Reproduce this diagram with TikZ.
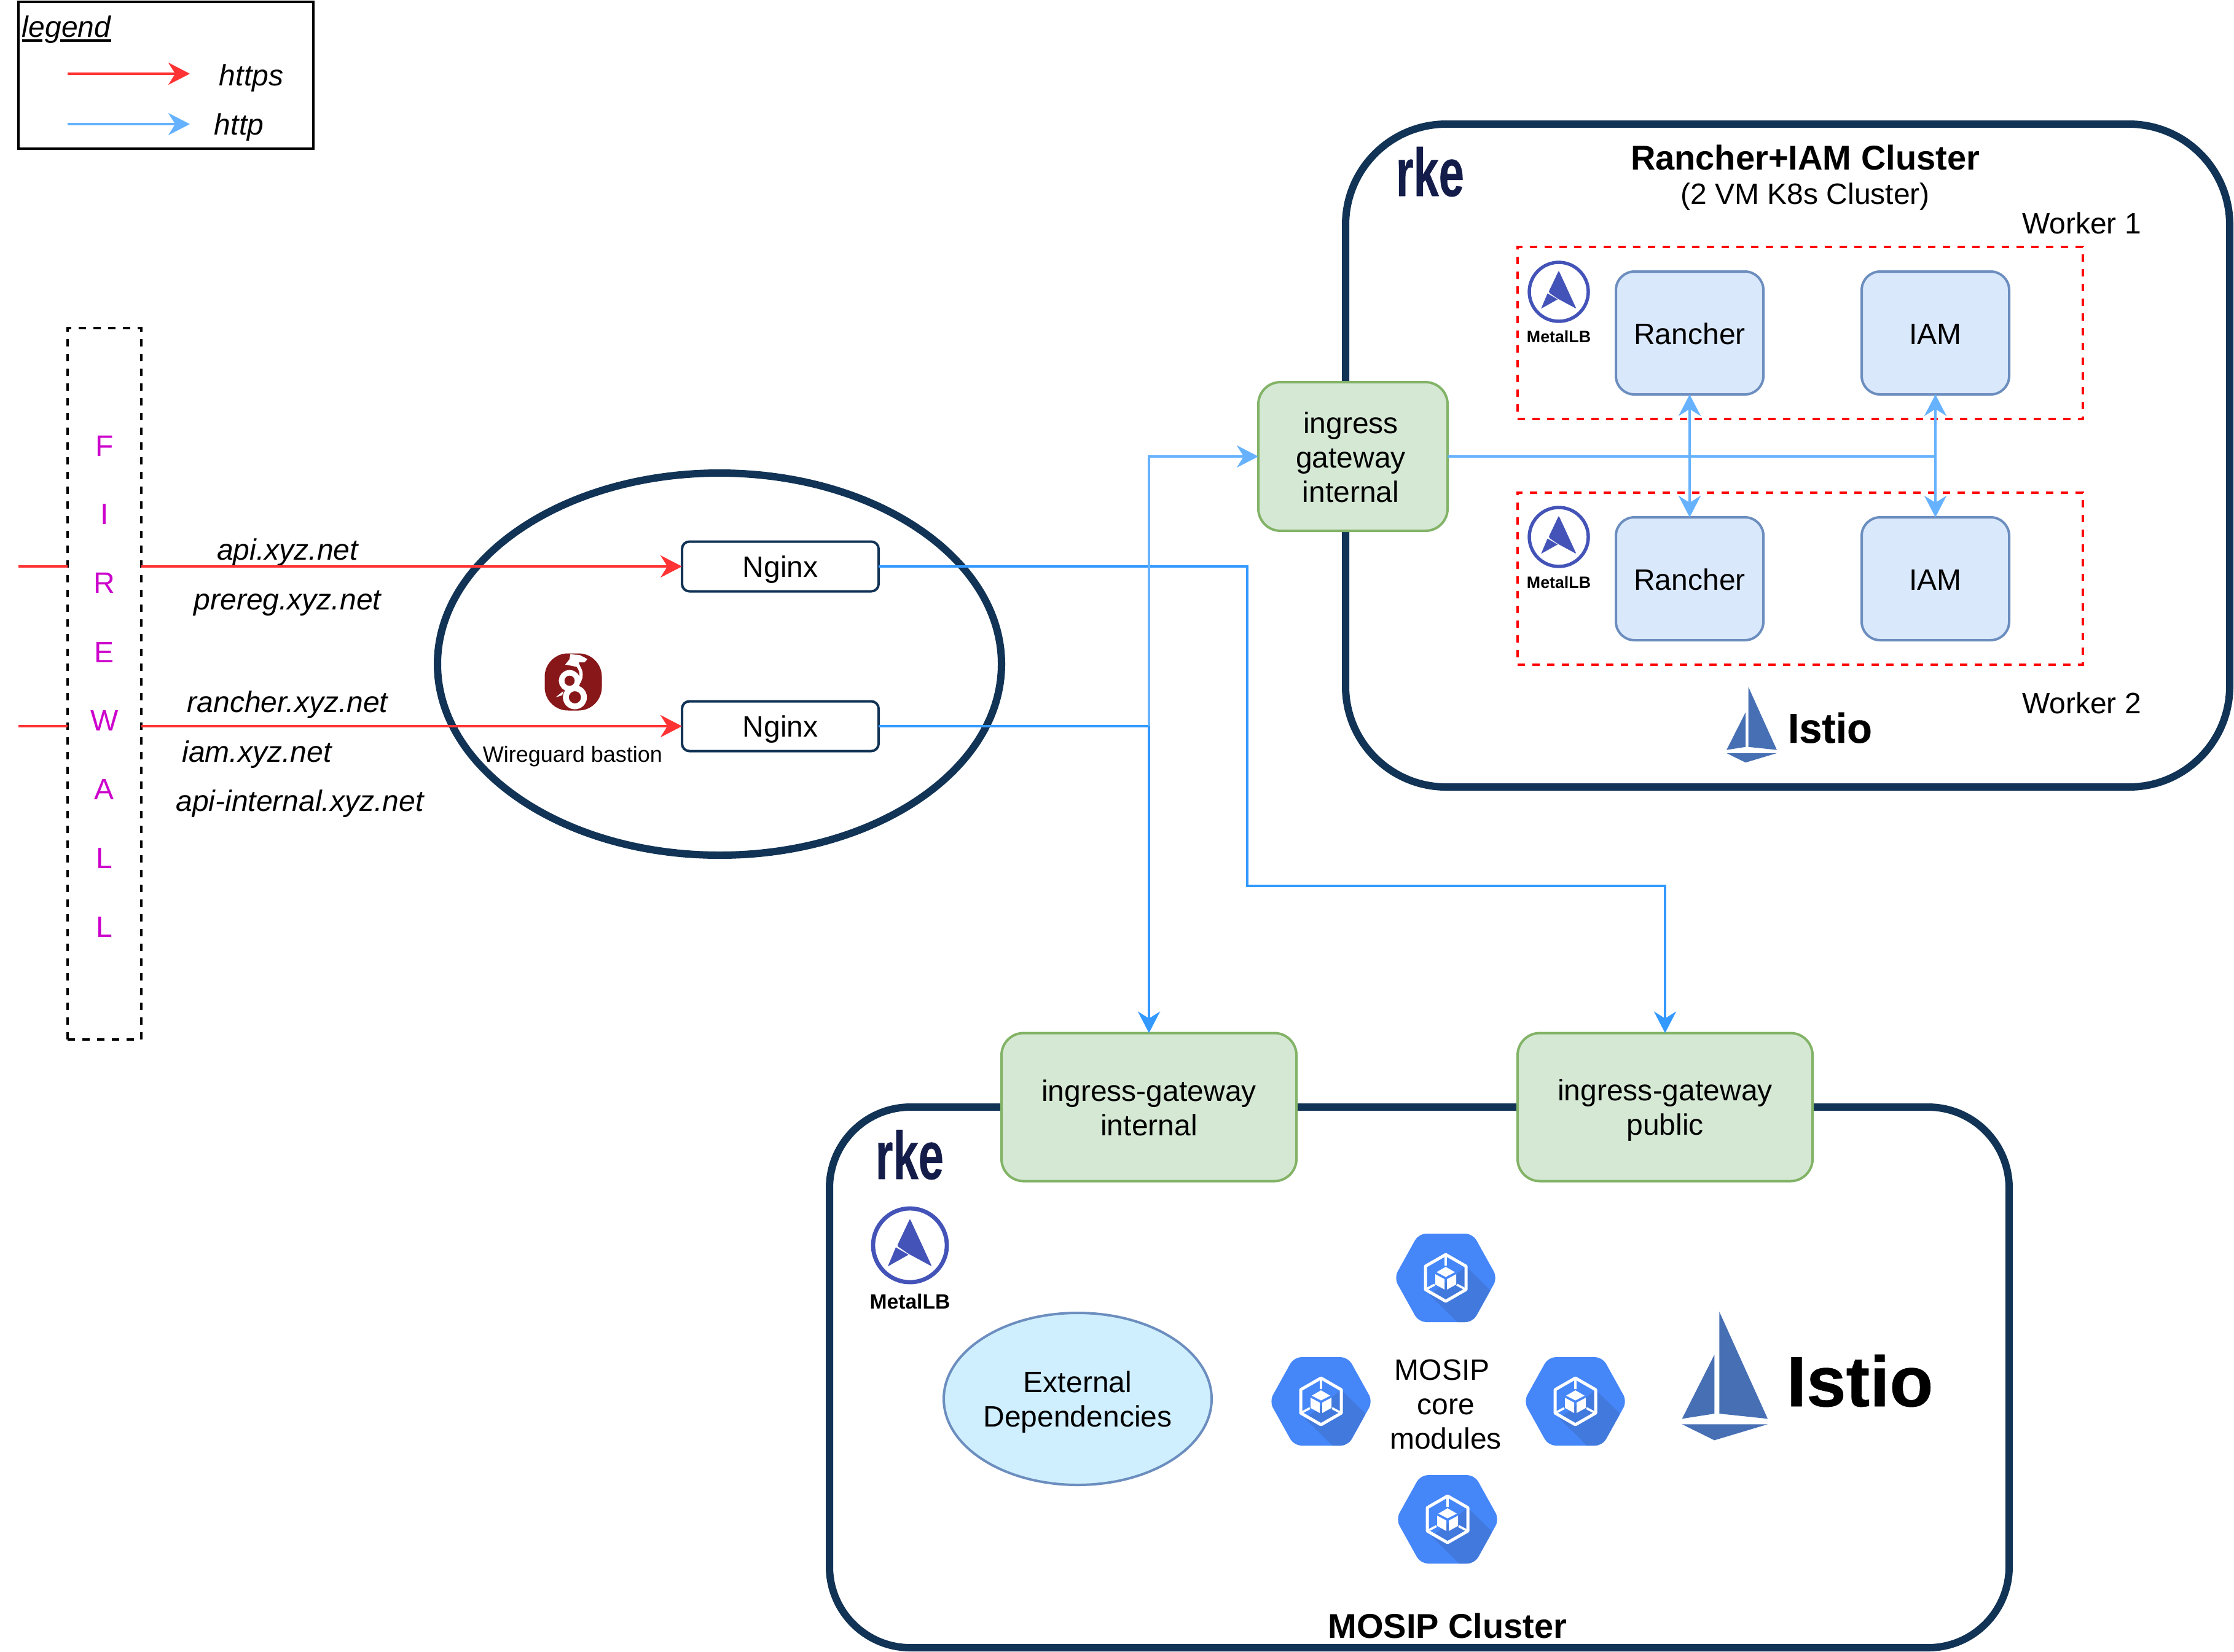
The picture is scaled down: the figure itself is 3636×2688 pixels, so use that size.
\documentclass[tikz,border=0pt]{standalone}
\usepackage{graphicx}
\usepackage{fontspec}
\setmainfont{Liberation Sans}
\newfontfamily\logofont[BoldFeatures={FakeBold=0.5}]{Liberation Sans}
\usetikzlibrary{arrows.meta,shapes.geometric}
\definecolor{navy}{HTML}{113355}
\definecolor{rkeblue}{HTML}{141D4A}
\definecolor{hexmain}{HTML}{4586F9}
\definecolor{hexdark}{HTML}{4279DC}
\definecolor{lbblue}{HTML}{4353B8}
\definecolor{sail}{HTML}{476FB4}
\definecolor{wgred}{HTML}{88171A}
\definecolor{redline}{HTML}{FF3333}
\definecolor{lightline}{HTML}{66B2FF}
\definecolor{midline}{HTML}{3399FF}
\newcommand{\stt}{\rule[-2.1pt]{0pt}{13.4pt}}
\newcommand{\metallogo}[3]{%
  \begin{scope}[shift={(#1,#2)},scale=#3]
    \draw[lbblue,line width=#3*1.7pt] (0,0) circle[radius=60];
    \fill[lbblue,rounded corners=0.5pt] (0,-43.3) -- (35.7,34.3) -- (-2,14) -- (-21,1) -- cycle;
    \fill[lbblue] (-23,3.3) -- (-2.3,15.3) -- (-36,34.3) -- cycle;
  \end{scope}}
\newcommand{\istiologo}[3]{%
  \begin{scope}[shift={(#1,#2)},scale=#3]
    \fill[sail] (0,0) -- (78.7,174.3) -- (0,166) -- cycle;
    \fill[sail] (-8,70) -- (-8,166) -- (-60.7,174.3) -- cycle;
    \fill[sail] (-60.7,183.3) -- (78.7,183.3) -- (-8,209.3) -- cycle;
  \end{scope}}
\newcommand{\kubeicon}[2]{%
  \begin{scope}[shift={(#1,#2)}]
    \begin{scope}
      \path[clip,rounded corners=3pt] (-84,0) -- (-44,-72) -- (44,-72) -- (84,0) -- (44,72) -- (-44,72) -- cycle;
      \fill[hexmain] (-90,-80) rectangle (90,80);
      \fill[hexdark] (33,-18.6) -- (71,18.6) -- (90,80) -- (19,72) -- (-26,28) -- cycle;
    \end{scope}
    \draw[white,line width=1.25pt,line join=round] (0,-38) -- (33,-19) -- (33,19) -- (0,38) -- (-33,19) -- (-33,-19) -- cycle;
    \draw[white,line width=0.9pt] (0,-38) -- (0,-20) (-33,19) -- (-18,11) (33,19) -- (18,11);
    \fill[white] (0,-18) -- (15,-9.3) -- (0,-1.5) -- (-15,-9.3) -- cycle;
    \fill[white] (-17,-6) -- (-2,2) -- (-2,19) -- (-17,10.7) -- cycle;
    \fill[white] (17,-6) -- (2,2) -- (2,19) -- (17,10.7) -- cycle;
  \end{scope}}
\tikzset{
  x=0.25pt,y=-0.25pt,
  base font/.style={font=\fontsize{12}{14}\selectfont},
  wh/.style 2 args={minimum width=#1*0.25pt,minimum height=#2*0.25pt,inner sep=0pt,outer sep=0pt},
  cluster/.style={draw=navy,line width=3pt,rounded corners=#1,fill=white},
  rancherbox/.style={draw={rgb,255:red,108;green,142;blue,191},fill={rgb,255:red,218;green,232;blue,252},line width=1pt,rounded corners=7.5pt,align=center,base font},
  greenbox/.style={draw={rgb,255:red,130;green,179;blue,102},fill={rgb,255:red,213;green,232;blue,212},line width=1pt,rounded corners=9pt,align=center,base font},
  nginxbox/.style={draw=navy,fill=white,line width=1pt,rounded corners=3pt,align=center,base font},
  workerbox/.style={draw={rgb,255:red,255;green,0;blue,0},line width=1pt,dash pattern=on 3pt off 3pt},
  lbl/.style={base font,inner sep=0pt,outer sep=0pt,anchor=base},
  ilbl/.style={lbl,font=\fontsize{12}{14}\selectfont\itshape},
  letter/.style={base font,text={rgb,255:red,204;green,0;blue,204},inner sep=0pt},
  tipshape/.style={-{Stealth[length=8.75pt,width=9pt,inset=2.8pt]}},
  biptip/.style={{Stealth[length=8.75pt,width=9pt,inset=2.8pt]}-{Stealth[length=8.75pt,width=9pt,inset=2.8pt]}},
  redwire/.style={redline,line width=1pt},
  lightwire/.style={lightline,line width=1pt},
  midwire/.style={midline,line width=1pt},
  lbtext/.style={inner sep=0pt,anchor=base,font=\fontsize{#1}{#1}\selectfont\bfseries},
  rketext/.style={inner sep=0pt,anchor=base west,text=rkeblue,font=\fontsize{27.6}{30}\selectfont\logofont\bfseries},
  istiotext/.style={inner sep=0pt,anchor=base west,font=\fontsize{#1}{#1}\selectfont\logofont\bfseries},
}
\begin{document}
\begin{tikzpicture}
\useasboundingbox (0,0) rectangle (3636,2688);
% legend
\node[draw=black,line width=1pt,wh={480}{239}] (legendbox) at (270,122) {};
\node[ilbl,anchor=base west] (legendtitle) at (36,60) {legend};
\draw[black,line width=0.8pt] (36,66) -- (69,66) (98,66) -- (181,66);
\coordinate (ls1) at (110,120); \coordinate (le1) at (309,120);
\coordinate (ls2) at (110,202); \coordinate (le2) at (309,202);
\draw[redwire,tipshape] (ls1) -- (le1);
\draw[lightwire,tipshape] (ls2) -- (le2);
\node[ilbl] (lhttps) at (409,139) {https};
\node[ilbl] (lhttp) at (389,219) {http};
% firewall
\node[draw=black,line width=1pt,dash pattern=on 3pt off 3pt,wh={120}{1158}] (fw) at (170,1113) {};
\node[letter] (f1) at (170,724) {\stt F};
\node[letter] (f2) at (170,835) {\stt I};
\node[letter] (f3) at (170,947) {\stt R};
\node[letter] (f4) at (170,1060) {\stt E};
\node[letter] (f5) at (170,1171) {\stt W};
\node[letter] (f6) at (170,1283) {\stt A};
\node[letter] (f7) at (170,1395) {\stt L};
\node[letter] (f8) at (170,1507) {\stt L};
% bastion
\node[draw=navy,line width=3pt,ellipse,wh={918}{622}] (bastion) at (1171,1081) {};
\node[nginxbox,wh={320}{81}] (ngx1) at (1270,922) {\stt Nginx};
\node[nginxbox,wh={320}{81}] (ngx2) at (1270,1182) {\stt Nginx};
\node[fill=wgred,rounded corners=9.5pt,wh={93}{93}] (wg) at (933,1110) {};
\fill[white] (928.3,1065) -- (943.3,1066) -- (956,1072.7) -- (951.7,1078) -- (941.7,1078) -- (945,1086.7) -- (920,1081.7) -- (926.7,1073.3) -- cycle;
\draw[white,line width=1.3pt] (937,1080) .. controls (948,1090) and (950,1105) .. (936,1118);
\draw[white,line width=2.25pt] (927,1108) circle[radius=13];
\draw[white,line width=2.4pt] (935.7,1135) circle[radius=14.7];
\fill[white] (904.3,1135) -- (916.7,1125) -- (915,1131.7) -- cycle;
\node[lbl,font=\fontsize{9}{10}\selectfont] (wgtext) at (932,1240) {Wireguard bastion};
% domain labels
\node[ilbl] (d1) at (468,911) {api.xyz.net};
\node[ilbl] (d2) at (468,992) {prereg.xyz.net};
\node[ilbl] (d3) at (468,1159) {rancher.xyz.net};
\node[ilbl] (d4) at (418,1240) {iam.xyz.net};
\node[ilbl] (d5) at (488,1320) {api-internal.xyz.net};
% top cluster
\node[cluster=41pt,wh={1439}{1079}] (topc) at (2909.5,741.5) {};
\node[rketext] (rke1) at (2271,319) {\scalebox{0.67}[1]{rke}};
\node[lbl,font=\fontsize{14}{16}\selectfont\bfseries] (toptitle) at (2938,276) {Rancher+IAM Cluster};
\node[lbl] (topsub) at (2938,332) {(2 VM K8s Cluster)};
\node[lbl] (w1) at (3388,380) {Worker 1};
\node[lbl] (w2) at (3388,1161) {Worker 2};
\node[workerbox,wh={920}{280}] (wb1) at (2930,541.5) {};
\node[workerbox,wh={920}{280}] (wb2) at (2930,941.5) {};
\metallogo{2537}{475}{0.8}
\metallogo{2537}{874}{0.8}
\node[lbtext=6.7] (mlt1) at (2537,557) {MetalLB};
\node[lbtext=6.7] (mlt2) at (2537,957) {MetalLB};
\node[rancherbox,wh={240}{200}] (r1) at (2750,542) {\stt Rancher};
\node[rancherbox,wh={240}{200}] (i1) at (3150,542) {\stt IAM};
\node[rancherbox,wh={240}{200}] (r2) at (2750,942) {\stt Rancher};
\node[rancherbox,wh={240}{200}] (i2) at (3150,942) {\stt IAM};
\istiologo{2845.7}{1118.3}{0.587}
\node[istiotext=17] (ist1) at (2909,1209) {\scalebox{0.98}[1]{Istio}};
\node[greenbox,wh={308}{242}] (ing) at (2202,743) {\hspace*{-1.8pt}\stt ingress\\\hspace*{-1.8pt}gateway\\\hspace*{-1.8pt}\stt internal};
% bottom cluster
\node[cluster=33pt,wh={1920}{880}] (botc) at (2310,2242) {};
\node[rketext] (rke2) at (1424,1919) {\scalebox{0.67}[1]{rke}};
\metallogo{1481}{2027}{1}
\node[lbtext=8.4] (mlt3) at (1481,2130) {MetalLB};
\node[greenbox,wh={480}{241}] (gwi) at (1870,1802) {\stt ingress-gateway\\\stt internal};
\node[greenbox,wh={480}{241}] (gwp) at (2710,1802) {\stt ingress-gateway\\\stt public};
\node[draw={rgb,255:red,108;green,142;blue,191},fill={rgb,255:red,207;green,239;blue,255},line width=1pt,ellipse,wh={436}{280},align=center,base font] (ext) at (1754,2277) {\stt External\\\stt Dependencies};
\kubeicon{2353}{2080}
\kubeicon{2150}{2281}
\kubeicon{2564}{2281}
\kubeicon{2356}{2473}
\node[align=center,base font,inner sep=0pt] (core) at (2353,2284) {\stt MOSIP\hspace*{3pt}\\core\\\stt modules};
\istiologo{2798.3}{2135}{1}
\node[istiotext=29] (ist2) at (2907,2289) {\scalebox{1.0}[1]{Istio}};
\node[lbl,font=\fontsize{14}{16}\selectfont\bfseries] (bottitle) at (2356,2666) {MOSIP Cluster};
% connectors
\coordinate (in1) at (30,922);
\coordinate (in2) at (30,1182);
\draw[redwire] (in1) -- (in1 -| fw.west);
\draw[redwire] (in2) -- (in2 -| fw.west);
\draw[redwire,tipshape] (in1 -| fw.east) -- (ngx1.west);
\draw[redwire,tipshape] (in2 -| fw.east) -- (ngx2.west);
\coordinate (bend) at (2030,1442);
\draw[midwire,tipshape] (ngx1.east) -| (bend) -| (gwp.north);
\coordinate (junc) at (ngx2.east -| gwi.north);
\draw[midwire] (ngx2.east) -- (junc);
\draw[midwire,tipshape] (junc) -- (gwi.north);
\draw[lightwire,tipshape] (junc) |- (ing.west);
\draw[lightwire] (ing.east) -- (ing.east -| i1.south);
\draw[lightwire,biptip] (r1.south) -- (r2.north);
\draw[lightwire,biptip] (i1.south) -- (i2.north);
\end{tikzpicture}
\end{document}
